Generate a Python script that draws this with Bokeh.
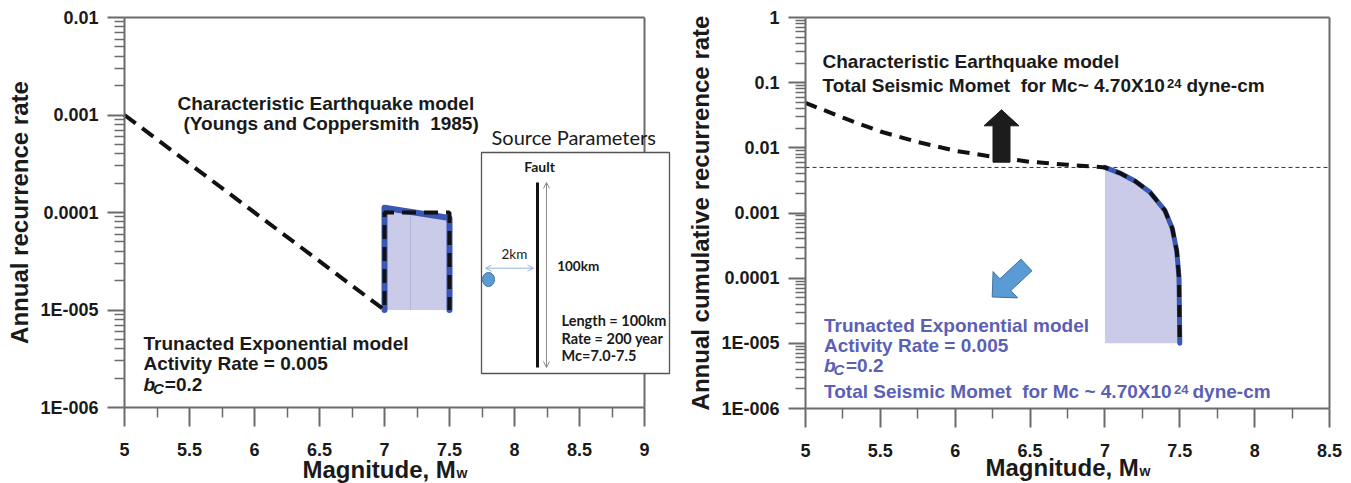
import math
from bokeh.plotting import figure
from bokeh.layouts import row
from bokeh.models import Range1d, FixedTicker, CustomJSTickFormatter, Label, Arrow, OpenHead
from bokeh.embed import file_html
from bokeh.resources import INLINE

# ---------------- data ----------------
# Left panel: annual (incremental) recurrence rate
cm_left_mag = [5.0, 7.0, 7.0, 7.5, 7.5]
cm_left_rate = [1e-3, 1e-5, 1e-4, 1e-4, 1e-5]
te_left_mag = [7.0, 7.0, 7.5, 7.5]
te_left_rate = [1e-5, 1.12e-4, 8.8e-5, 1e-5]
te_left_mid_mag = [7.2, 7.2]
te_left_mid_rate = [1e-5, 1.02e-4]

# Right panel: annual cumulative recurrence rate
cm_right_mag = [5.0, 5.25, 5.5, 5.75, 6.0, 6.25, 6.5, 6.75, 7.0]
cm_right_rate = [0.049, 0.029, 0.0178, 0.0123, 0.0090, 0.0073, 0.0061, 0.0055, 0.005]
te_right_mag = [7.0, 7.1, 7.2, 7.3, 7.4, 7.45, 7.48, 7.495, 7.5]
te_right_rate = [0.005, 0.0041, 0.0031, 0.0021, 0.0011, 0.00058, 0.00026, 0.0001, 0.00001]
activity_rate = 0.005
fill_floor = 1e-5

# ticks
x_ticks_left = [5, 5.5, 6, 6.5, 7, 7.5, 8, 8.5, 9]
x_tick_labels_left = ["5", "5.5", "6", "6.5", "7", "7.5", "8", "8.5", "9"]
x_ticks_right = [5, 5.5, 6, 6.5, 7, 7.5, 8, 8.5]
x_tick_labels_right = ["5", "5.5", "6", "6.5", "7", "7.5", "8", "8.5"]
y_ticks_left = [1e-6, 1e-5, 1e-4, 1e-3, 1e-2]
y_tick_labels_left = ["1E-006", "1E-005", "0.0001", "0.001", "0.01"]
y_ticks_right = [1e-6, 1e-5, 1e-4, 1e-3, 1e-2, 1e-1, 1.0]
y_tick_labels_right = ["1E-006", "1E-005", "0.0001", "0.001", "0.01", "0.1", "1"]

# ---------------- style ----------------
AX = "#6b6b6b"
TXT = "#1a1a1a"
BLUE_TXT = "#5b5fb5"
LINE_BLUE = "#3a57b3"
FILL = "#c9cbe8"
FONT = "Liberation Sans"
INSET_FONT = "Lato"

LW, RW, H = 684, 667, 483
NBSP = "\u00a0"
BASE_SHIFT = 0.35  # empirical: label baseline offset, in font sizes


# page-pixel -> data helpers (each frame covers its whole canvas)
def lx(px):
    return 5 + (px - 124) / 130.0


def ly(py):
    return 10 ** (-2 - (py - 17) / 97.5)


def rx(px):
    return 5 + (px - 805) * 3.5 / 524.0


def ry(py):
    return 10 ** (-(py - 17) * 6.0 / 391.0)


CODE = """
for (let i = 0; i < tvals.length; i++) {
  if (Math.abs(tvals[i] - tick) <= 1e-9 * Math.abs(tvals[i])) return labels[i];
}
return '';
"""


def style(p, xt, xm, xl, yt, ym, yl, xb, yb, x_fix, y_fix):
    p.xgrid.visible = False
    p.ygrid.visible = False
    p.outline_line_color = None
    p.background_fill_color = "white"
    p.border_fill_color = "white"
    xa = p.xaxis[0]
    ya = p.yaxis[0]
    xa.fixed_location = x_fix
    ya.fixed_location = y_fix
    xa.ticker = FixedTicker(ticks=xt, minor_ticks=xm)
    ya.ticker = FixedTicker(ticks=yt, minor_ticks=ym)
    xa.formatter = CustomJSTickFormatter(args=dict(tvals=xt, labels=xl), code=CODE)
    ya.formatter = CustomJSTickFormatter(args=dict(tvals=yt, labels=yl), code=CODE)
    for a in (xa, ya):
        a.axis_line_color = AX
        a.axis_line_width = 2
        a.major_tick_line_color = AX
        a.major_tick_line_width = 2
        a.minor_tick_line_color = AX
        a.minor_tick_line_width = 1.5
        a.major_tick_in = 0
        a.minor_tick_in = 0
        a.major_label_text_font = FONT
        a.major_label_text_font_style = "bold"
        a.major_label_text_font_size = "18px"
        a.major_label_text_color = TXT
    xa.major_tick_out = 19
    xa.minor_tick_out = 10
    ya.major_tick_out = 17
    ya.minor_tick_out = 10
    xa.major_label_standoff = 16
    ya.major_label_standoff = 9
    xa.bounds = xb
    ya.bounds = yb


def lab(p, fx, fy, px, py, text, size=19, style_="bold", color=TXT, font=FONT,
        rotated=False, align="left"):
    if rotated:
        px -= BASE_SHIFT * size
    else:
        py -= BASE_SHIFT * size
    p.add_layout(Label(x=fx(px), y=fy(py), text=text,
                       angle=(math.pi / 2 if rotated else 0.0), text_font=font,
                       text_font_size="%gpx" % size, text_font_style=style_,
                       text_color=color, text_align=align, text_baseline="alphabetic"))


def labL(*a, **k):
    lab(pL, lx, ly, *a, **k)


def labR(*a, **k):
    lab(pR, rx, ry, *a, **k)


def arrow_poly(tip, tail, head_len, head_hw, shaft_hw):
    dx, dy = tip[0] - tail[0], tip[1] - tail[1]
    L = math.hypot(dx, dy)
    ux, uy = dx / L, dy / L
    nx, ny = -uy, ux
    bx, by = tip[0] - ux * head_len, tip[1] - uy * head_len
    return [
        (tail[0] + nx * shaft_hw, tail[1] + ny * shaft_hw),
        (bx + nx * shaft_hw, by + ny * shaft_hw),
        (bx + nx * head_hw, by + ny * head_hw),
        tip,
        (bx - nx * head_hw, by - ny * head_hw),
        (bx - nx * shaft_hw, by - ny * shaft_hw),
        (tail[0] - nx * shaft_hw, tail[1] - ny * shaft_hw),
    ]


# ---------------- left figure ----------------
pL = figure(width=LW, height=H, x_range=Range1d(lx(0), lx(LW)), y_range=Range1d(ly(H), ly(0)),
            y_axis_type="log", output_backend="svg", toolbar_location=None, min_border=0)
ym_left = [k * 10.0 ** d for d in range(-6, -2) for k in range(2, 10)]
xm_left = [5.25 + 0.5 * i for i in range(8)]
style(pL, x_ticks_left, xm_left, x_tick_labels_left, y_ticks_left, ym_left, y_tick_labels_left,
      (5, 9), (1e-6, 0.01), 1e-6, 5)

# frame borders (top & right)
pL.line([5, 9], [0.01, 0.01], line_color=AX, line_width=2)
pL.line([9, 9], [1e-6, 0.01], line_color=AX, line_width=2)

# truncated exponential (fill + blue outline)
pL.patch(te_left_mag, te_left_rate, fill_color=FILL, line_color=None)
pL.line(te_left_mid_mag, te_left_mid_rate, line_color="#b3b7dc", line_width=1)
pL.line(te_left_mag, te_left_rate, line_color=LINE_BLUE, line_width=6,
        line_join="round", line_cap="round")
# characteristic model dashed
pL.line(cm_left_mag, cm_left_rate, line_color="#111111", line_width=4, line_dash="14 8")

# inset box: source parameters
pL.quad(left=[lx(481)], right=[lx(669)], top=[ly(152)], bottom=[ly(373)],
        fill_color="white", line_color="#555555", line_width=1.3)
pL.line([lx(537), lx(537)], [ly(182), ly(367)], line_color="#111111", line_width=3)
pL.add_layout(Arrow(start=OpenHead(size=6, line_color="#8c8c8c", line_width=1),
                    end=OpenHead(size=6, line_color="#8c8c8c", line_width=1),
                    x_start=lx(546), y_start=ly(367), x_end=lx(546), y_end=ly(182),
                    line_color="#8c8c8c", line_width=1))
pL.add_layout(Arrow(start=OpenHead(size=6, line_color="#8fb4e3", line_width=1),
                    end=OpenHead(size=6, line_color="#8fb4e3", line_width=1),
                    x_start=lx(485), y_start=ly(267.7), x_end=lx(533), y_end=ly(267.7),
                    line_color="#8fb4e3", line_width=1))
pL.ellipse(x=[lx(488)], y=[ly(279)], width=12, height=14, width_units="screen",
           height_units="screen", fill_color="#5b9bd5", line_color="#41719c", line_width=1)

labL(491, 143.3, "Source Parameters", size=20, style_="normal", font=INSET_FONT)
labL(539, 170.7, "Fault", size=14, font=INSET_FONT, align="center")
labL(501, 258.3, "2km", size=13.5, style_="normal", font=INSET_FONT)
labL(556.7, 270, "100km", size=13.5, font=INSET_FONT)
labL(561, 325, "Length = 100km", size=14.5, font=INSET_FONT)
labL(561, 342.7, "Rate = 200 year", size=14.5, font=INSET_FONT)
labL(561, 360, "Mc=7.0-7.5", size=14.5, font=INSET_FONT)

# annotations
labL(177, 110, "Characteristic Earthquake model")
labL(183, 129.5, "(Youngs and Coppersmith" + NBSP + " 1985)")
labL(143, 349.3, "Trunacted Exponential model")
labL(143, 370, "Activity Rate = 0.005")
labL(143, 390.7, "b", style_="bold italic")
labL(152.5, 393.5, "C", size=15, style_="bold italic")
labL(164.3, 390.7, "=0.2")

# axis titles
labL(302, 477.3, "Magnitude, M", size=24)
labL(456, 477.3, "w", size=14)
labL(27, 212, "Annual recurrence rate", size=24, rotated=True, align="center")

# ---------------- right figure ----------------
pR = figure(width=RW, height=H, x_range=Range1d(rx(LW), rx(LW + RW)),
            y_range=Range1d(ry(H), ry(0)), y_axis_type="log", output_backend="svg",
            toolbar_location=None, min_border=0)
ym_right = [k * 10.0 ** d for d in range(-6, 0) for k in range(2, 10)]
xm_right = [5.25 + 0.5 * i for i in range(7)]
style(pR, x_ticks_right, xm_right, x_tick_labels_right, y_ticks_right, ym_right,
      y_tick_labels_right, (5, 8.5), (1e-6, 1.0), 1e-6, 5)

# frame borders (top & right)
pR.line([5, 8.5], [1.0, 1.0], line_color=AX, line_width=2)
pR.line([8.5, 8.5], [1e-6, 1.0], line_color=AX, line_width=2)

pR.line([5, 8.5], [activity_rate, activity_rate], line_color="#333333",
        line_width=1, line_dash="4 3")
fill_x = te_right_mag + [te_right_mag[-1], te_right_mag[0]]
fill_y = te_right_rate + [fill_floor, fill_floor]
pR.patch(fill_x, fill_y, fill_color=FILL, line_color=None)
pR.line(te_right_mag, te_right_rate, line_color=LINE_BLUE, line_width=5,
        line_join="round", line_cap="round")
pR.line(cm_right_mag + te_right_mag[1:], cm_right_rate + te_right_rate[1:],
        line_color="#111111", line_width=4, line_dash="12 8")

# arrows
blk = arrow_poly((1001, 109.3), (1001, 161.7), 16, 17.5, 8.5)
pR.patch([rx(p[0]) for p in blk], [ry(p[1]) for p in blk], fill_color="#1c1c1c",
         line_color="#1c1c1c", line_width=1)
blu = arrow_poly((991.7, 296.5), (1026, 264.5), 18, 18, 8)
pR.patch([rx(p[0]) for p in blu], [ry(p[1]) for p in blu], fill_color="#5b9bd5",
         line_color="#41719c", line_width=1)

# annotations
labR(822, 67.7, "Characteristic Earthquake model")
labR(822, 91.7, "Total Seismic Momet" + NBSP + " for Mc~ 4.70X10")
labR(1166.5, 88, "24", size=13)
labR(1186, 91.7, "dyne-cm")

labR(823.5, 331.7, "Trunacted Exponential model", color=BLUE_TXT)
labR(823.5, 351.7, "Activity Rate = 0.005", color=BLUE_TXT)
labR(823.5, 371.7, "b", style_="bold italic", color=BLUE_TXT)
labR(833, 374.5, "C", size=15, style_="bold italic", color=BLUE_TXT)
labR(845.5, 371.7, "=0.2", color=BLUE_TXT)
labR(823.5, 397.7, "Total Seismic Momet" + NBSP + " for Mc ~ 4.70X10", color=BLUE_TXT)
labR(1173.5, 394, "24", size=13, color=BLUE_TXT)
labR(1192, 397.7, "dyne-cm", color=BLUE_TXT)

# axis titles
labR(985, 475.5, "Magnitude, M", size=24)
labR(1139, 475.5, "w", size=14)
labR(708, 212.5, "Annual cumulative recurrence rate", size=24, rotated=True, align="center")

layout = row(pL, pR)
open("out.html", "w").write(file_html(layout, INLINE))
